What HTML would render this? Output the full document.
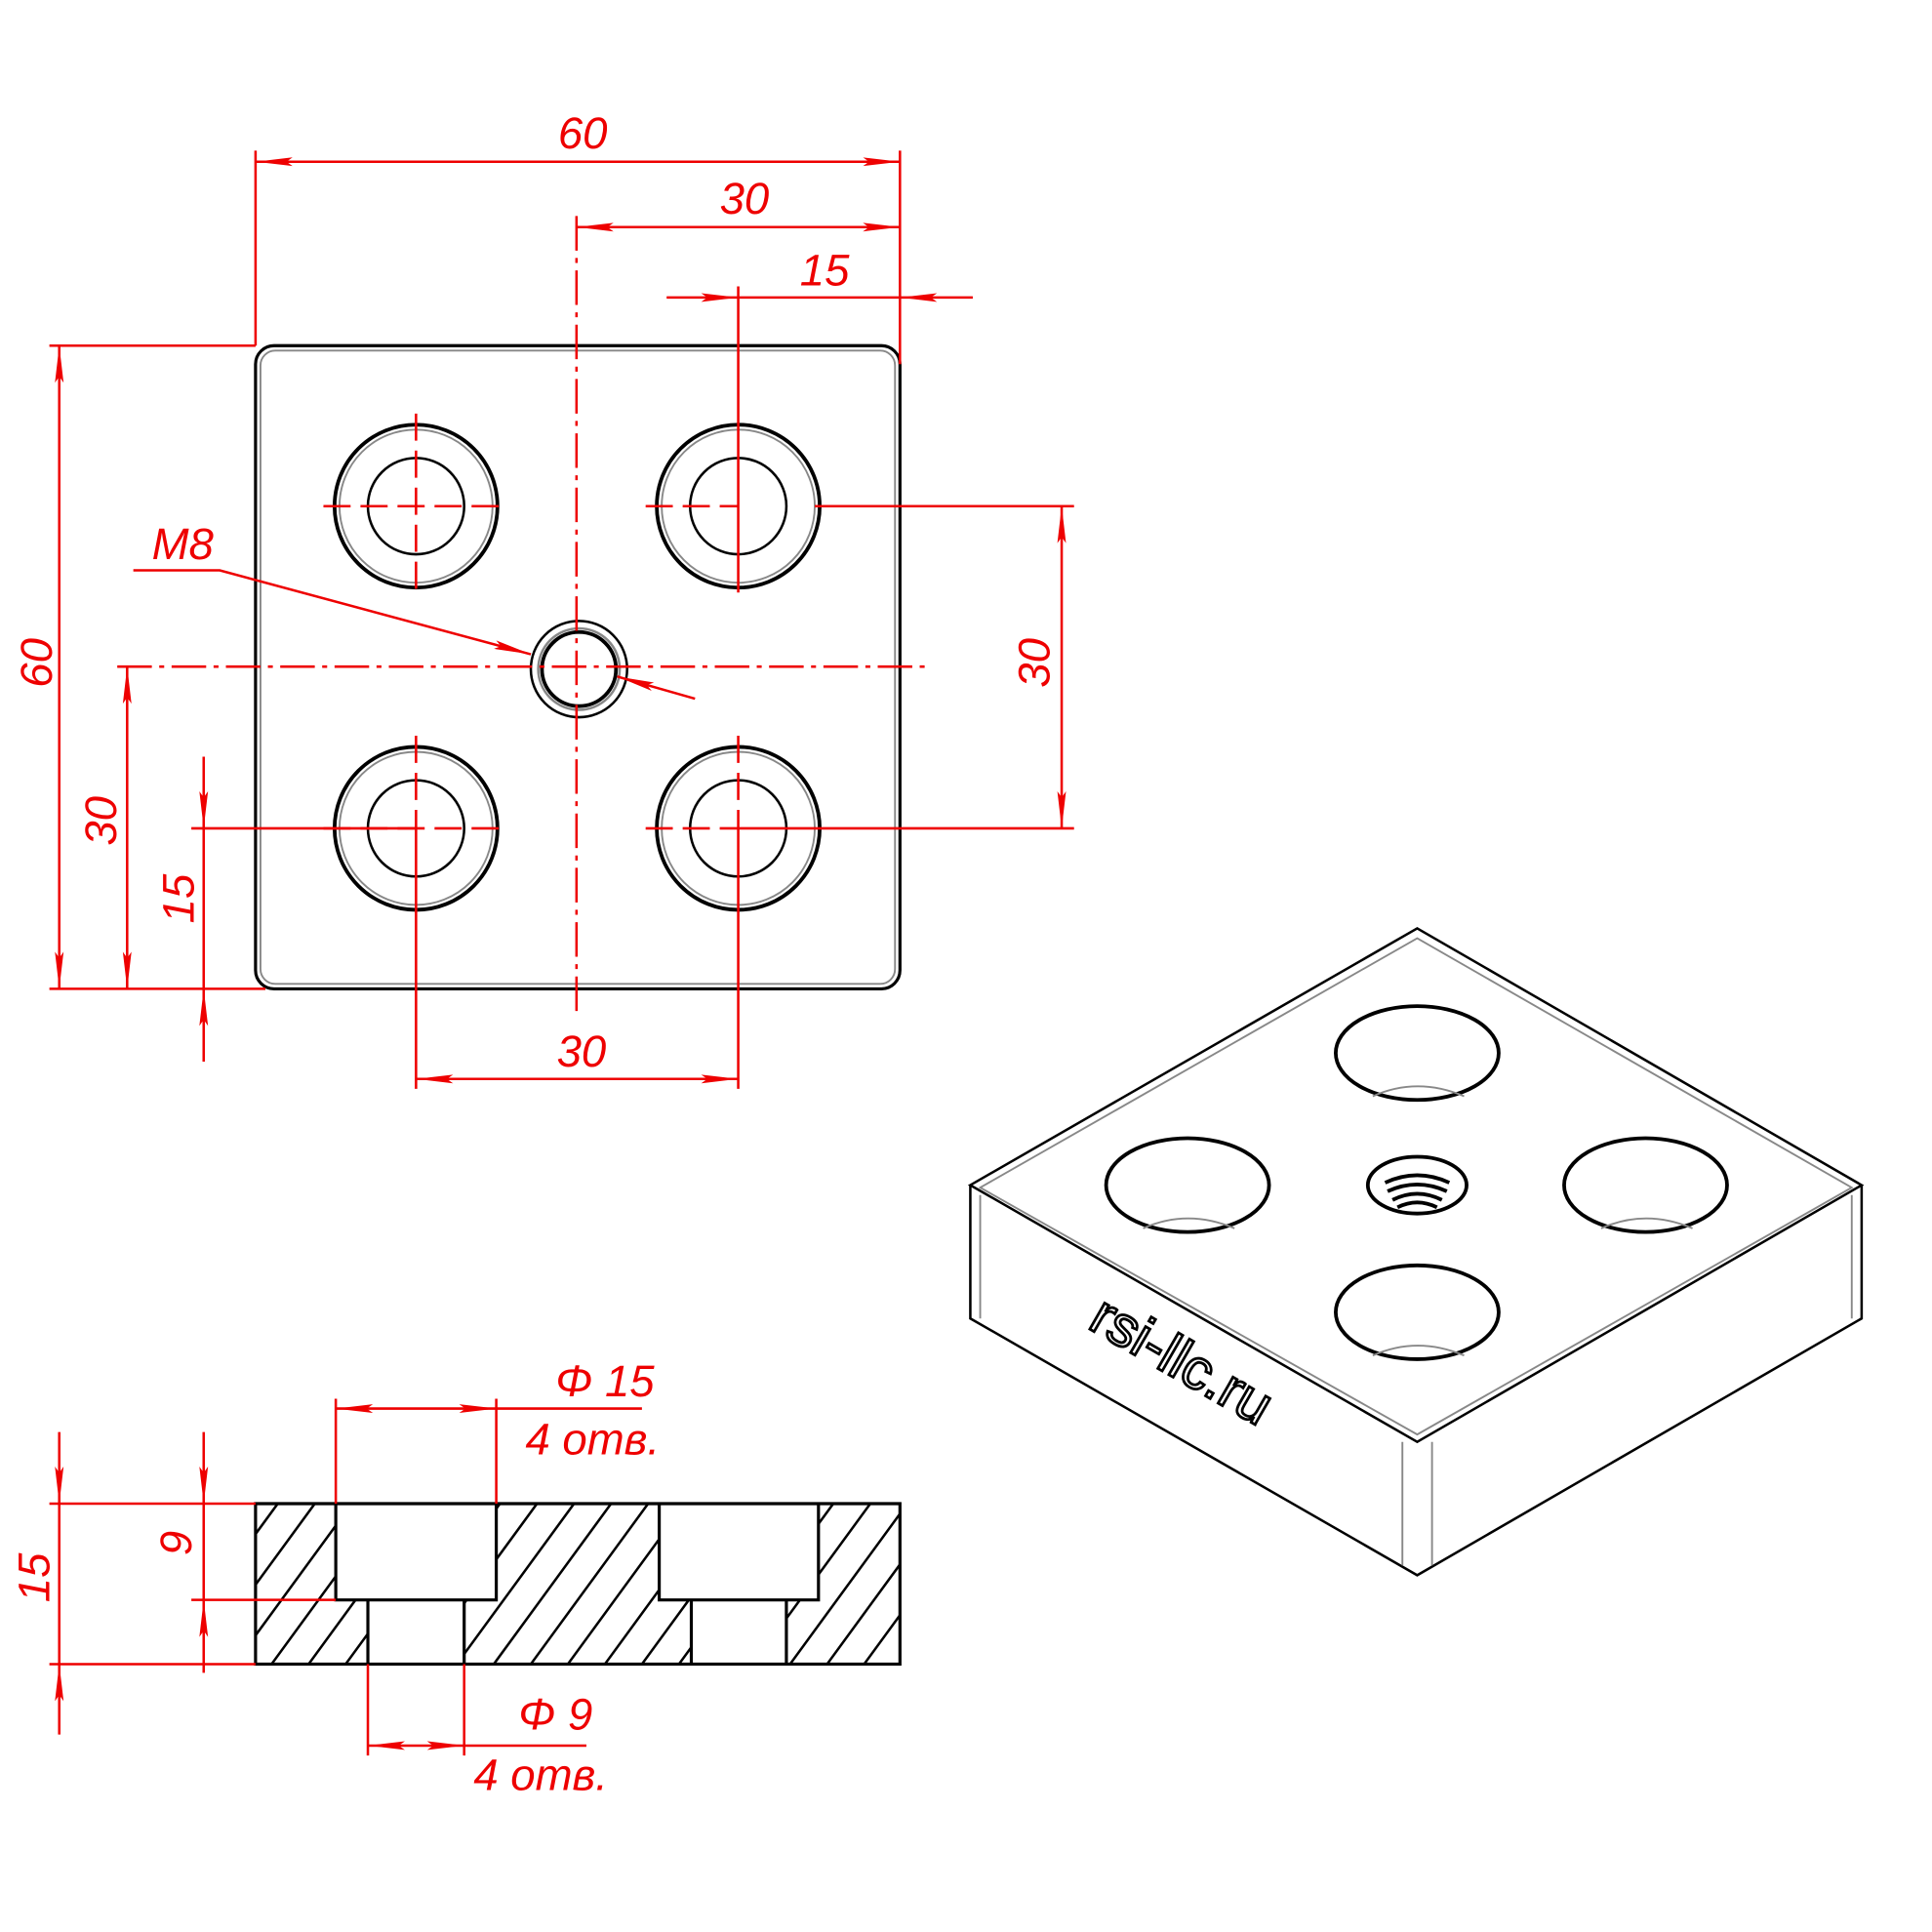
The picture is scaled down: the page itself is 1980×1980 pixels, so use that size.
<!DOCTYPE html>
<html><head><meta charset="utf-8"><style>html,body{margin:0;padding:0;background:#fff}svg{display:block}</style></head>
<body>
<svg xmlns="http://www.w3.org/2000/svg" width="1980" height="1980" viewBox="0 0 1565 1565">
<defs>
<marker id="a" viewBox="0 0 30 10" refX="30" refY="5" markerWidth="30" markerHeight="10" markerUnits="userSpaceOnUse" orient="auto-start-reverse"><path d="M0,1.5 L30,5 L0,8.5 L5,5 Z" fill="#e00"/></marker>
<clipPath id="sec"><path d="M207,1218 H272 V1296 H298 V1348 H207 Z M402,1218 H534 V1296 H560 V1348 H376 V1296 H402 Z M663,1218 H729 V1348 H637 V1296 H663 Z"/></clipPath>
</defs>
<g fill="none" stroke="#000">
<rect x="207" y="280" width="522" height="521" rx="15" stroke-width="2.5"/>
<rect x="211" y="284" width="514" height="513" rx="12" stroke="#888" stroke-width="1.5"/>
<g stroke-width="3">
<circle cx="337" cy="410" r="66"/><circle cx="598" cy="410" r="66"/><circle cx="337" cy="671" r="66"/><circle cx="598" cy="671" r="66"/>
</g>
<g stroke="#888" stroke-width="1.5">
<circle cx="337" cy="410" r="62"/><circle cx="598" cy="410" r="62"/><circle cx="337" cy="671" r="62"/><circle cx="598" cy="671" r="62"/>
</g>
<g stroke-width="2">
<circle cx="337" cy="410" r="39"/><circle cx="598" cy="410" r="39"/><circle cx="337" cy="671" r="39"/><circle cx="598" cy="671" r="39"/>
<circle cx="469" cy="542" r="39"/><circle cx="469" cy="542" r="33" stroke="#888"/><circle cx="469" cy="542" r="30" stroke-width="3"/>
</g>
<g clip-path="url(#sec)" stroke-width="2">
<path d="M130,1348 l95,-130 M160,1348 l95,-130 M190,1348 l95,-130 M220,1348 l95,-130 M250,1348 l95,-130 M280,1348 l95,-130 M310,1348 l95,-130 M340,1348 l95,-130 M370,1348 l95,-130 M400,1348 l95,-130 M430,1348 l95,-130 M460,1348 l95,-130 M490,1348 l95,-130 M520,1348 l95,-130 M550,1348 l95,-130 M580,1348 l95,-130 M610,1348 l95,-130 M640,1348 l95,-130 M670,1348 l95,-130 M700,1348 l95,-130"/>
</g>
<path d="M207,1218 H729 V1348 H207 Z" stroke-width="2.5"/>
<path d="M272,1218 V1296 H402 V1218 M298,1296 V1348 M376,1296 V1348 M534,1218 V1296 H663 V1218 M560,1296 V1348 M637,1296 V1348" stroke-width="2.5"/>
<path d="M1148,752 L1508,960 L1148,1168 L786,960 Z" stroke-width="2"/>
<path d="M1148,760 L1500,962 L1148,1162 L794,962 Z" stroke="#888" stroke-width="1.5"/>
<path d="M786,960 V1068 L1148,1276 L1508,1068 V960" stroke-width="2"/>
<path d="M794,968 V1068 M1500,968 V1068 M1136,1168 V1268 M1160,1168 V1268" stroke="#888" stroke-width="1.5"/>
<g stroke-width="3">
<ellipse cx="1148" cy="853" rx="66" ry="38"/><ellipse cx="962" cy="960" rx="66" ry="38"/><ellipse cx="1333" cy="960" rx="66" ry="38"/><ellipse cx="1148" cy="1063" rx="66" ry="38"/>
<ellipse cx="1148" cy="960" rx="40" ry="23"/>
</g>
<g stroke="#888" stroke-width="1.5">
<path d="M1112,888 Q1148,872 1186,888 M926,995 Q962,979 1000,995 M1297,995 Q1333,979 1371,995 M1112,1098 Q1148,1082 1186,1098"/>
</g>
<g stroke-width="3"><path d="M1122,958 Q1148,946 1174,958 M1124,965 Q1148,954 1172,965 M1128,972 Q1148,962 1168,972 M1132,978 Q1148,970 1164,978"/></g>
</g>
<text transform="translate(880,1075) rotate(30)" font-family="Liberation Sans, sans-serif" font-size="46" fill="#fff" stroke="#000" stroke-width="2.2">rsi-llc.ru</text>
<g stroke="#e00" stroke-width="2" fill="none">
<g stroke-dasharray="28,6,4,6">
<path d="M467,175 V820 M95,540 H750"/>
</g>
<g stroke-dasharray="22,8">
<path d="M262,410 H412 M337,335 V485 M523,410 H598 M262,671 H412 M337,596 V671 M523,671 H598 M598,596 V671"/>
</g>
<path d="M207,122 V280 M729,122 V295 M598,232 V480 M40,280 H207 M40,801 H215 M155,671 H337 M598,671 H870 M660,410 H870 M337,671 V882 M598,671 V882"/>
<path d="M207,131 H729" marker-start="url(#a)" marker-end="url(#a)"/>
<path d="M467,184 H729" marker-start="url(#a)" marker-end="url(#a)"/>
<path d="M540,241 H598" marker-end="url(#a)"/><path d="M788,241 H729" marker-end="url(#a)"/><path d="M598,241 H729"/>
<path d="M48,280 V801" marker-start="url(#a)" marker-end="url(#a)"/>
<path d="M103,540 V801" marker-start="url(#a)" marker-end="url(#a)"/>
<path d="M165,613 V671" marker-end="url(#a)"/><path d="M165,860 V801" marker-end="url(#a)"/><path d="M165,671 V801"/>
<path d="M860,410 V671" marker-start="url(#a)" marker-end="url(#a)"/>
<path d="M337,874 H598" marker-start="url(#a)" marker-end="url(#a)"/>
<path d="M108,462 H178 L430,530" marker-end="url(#a)"/>
<path d="M563,566 L500,548" marker-end="url(#a)"/>
<path d="M272,1133 V1218 M402,1133 V1218 M40,1218 H207 M155,1296 H272 M40,1348 H207 M298,1348 V1422 M376,1348 V1422"/>
<path d="M272,1141 H402" marker-start="url(#a)" marker-end="url(#a)"/><path d="M402,1141 H520"/>
<path d="M48,1160 V1218" marker-end="url(#a)"/><path d="M48,1405 V1348" marker-end="url(#a)"/><path d="M48,1218 V1348"/>
<path d="M165,1160 V1218" marker-end="url(#a)"/><path d="M165,1355 V1296" marker-end="url(#a)"/><path d="M165,1218 V1296"/>
<path d="M298,1414 H376" marker-start="url(#a)" marker-end="url(#a)"/><path d="M376,1414 H475"/>
</g>
<g fill="#e00" font-family="Liberation Sans, sans-serif" font-style="italic" font-size="36" text-anchor="middle">
<text x="472" y="120">60</text>
<text x="603" y="173">30</text>
<text x="668" y="231">15</text>
<text x="148" y="453">M8</text>
<text x="471" y="864">30</text>
<text transform="translate(42,537) rotate(-90)">60</text>
<text transform="translate(94,665) rotate(-90)">30</text>
<text transform="translate(157,728) rotate(-90)">15</text>
<text transform="translate(850,537) rotate(-90)">30</text>
<text transform="translate(40,1278) rotate(-90)">15</text>
<text transform="translate(155,1250) rotate(-90)">9</text>
<text x="490" y="1131">Φ 15</text>
<text x="480" y="1178">4 отв.</text>
<text x="450" y="1401">Φ 9</text>
<text x="438" y="1450">4 отв.</text>
</g>
</svg>
</body></html>
